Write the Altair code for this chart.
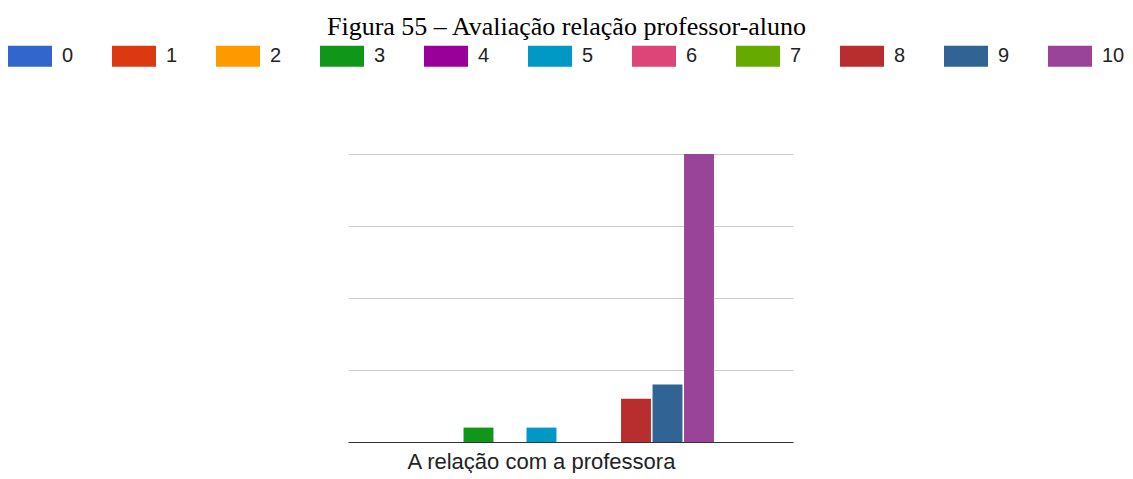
import altair as alt
import pandas as pd

series = ["0", "1", "2", "3", "4", "5", "6", "7", "8", "9", "10"]
values = [0, 0, 0, 1, 0, 1, 0, 0, 3, 4, 20]
colors = ["#3366cc", "#dc3912", "#ff9900", "#109618", "#990099", "#0099c6",
          "#dd4477", "#66aa00", "#b82e2e", "#316395", "#994499"]
category = "A relação com a professora"
title_text = "Figura 55 – Avaliação relação professor-aluno"
y_ticks = [0, 5, 10, 15, 20]

df = pd.DataFrame({"cat": [category] * len(series), "serie": series, "valor": values})

chart = alt.Chart(df).mark_bar().encode(
    x=alt.X("cat:N", title=None,
            scale=alt.Scale(paddingInner=0, paddingOuter=0.145, align=0.21),
            axis=alt.Axis(labelAngle=0, domainColor="#333333", domainWidth=1, ticks=False,
                          labelFont="Liberation Sans", labelFontSize=22, labelColor="#222222",
                          labelPadding=9, labelLimit=600, grid=False)),
    xOffset=alt.XOffset("serie:N", sort=series,
                        scale=alt.Scale(domain=series, paddingInner=0.05, paddingOuter=0)),
    y=alt.Y("valor:Q", title=None,
            scale=alt.Scale(domain=[0, 20], nice=False),
            axis=alt.Axis(values=y_ticks, labels=False, ticks=False, domain=False,
                          gridColor="#cccccc", gridWidth=1)),
    color=alt.Color("serie:N", sort=series,
                    scale=alt.Scale(domain=series, range=colors),
                    legend=alt.Legend(title=None, orient="none", legendX=-340, legendY=-120,
                                      direction="horizontal", columns=11,
                                      symbolType="M-1,-0.48H1V0.48H-1Z", symbolSize=1936,
                                      symbolStrokeWidth=0, symbolOpacity=1,
                                      labelOffset=10, columnPadding=38,
                                      labelFont="Liberation Sans", labelFontSize=20,
                                      labelColor="#222222")),
).properties(
    width=445,
    height=288,
    title=alt.TitleParams(title_text, font="Liberation Serif", fontSize=26,
                          fontWeight="normal", color="#000000", anchor="middle",
                          baseline="alphabetic", frame="group", offset=2, dx=-4, dy=29),
    autosize=alt.AutoSizeParams(type="none"),
    padding={"left": 340, "top": 146, "right": 332, "bottom": 31},
).configure_view(stroke=None)

chart.save("out.html", embed_options={"renderer": "svg", "actions": False})
